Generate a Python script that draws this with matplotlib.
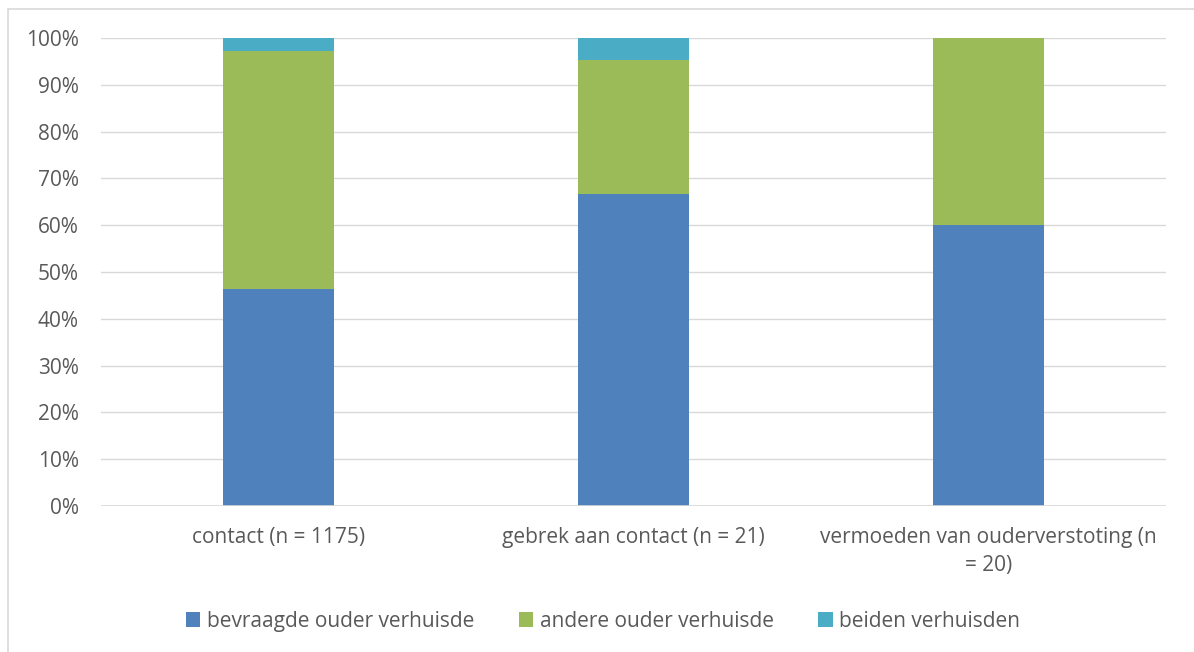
import matplotlib.pyplot as plt
from matplotlib.patches import Rectangle

categories = ["contact (n = 1175)", "gebrek aan contact (n = 21)",
              "vermoeden van ouderverstoting (n\n= 20)"]
bevraagde = [46.3, 66.7, 60.0]
andere = [51.0, 28.6, 40.0]
beiden = [2.7, 4.7, 0.0]

plt.rcParams['font.family'] = ['Open Sans', 'DejaVu Sans']
tc = '#595959'

fig = plt.figure(figsize=(11.94, 6.52), dpi=100)
ax = fig.add_axes([0.0846, 0.2239, 0.8919, 0.7178])

x = range(len(categories))
w = 0.315
ax.bar(x, bevraagde, w, color='#4F81BD', label='bevraagde ouder verhuisde', zorder=3)
ax.bar(x, andere, w, bottom=bevraagde, color='#9BBB59', label='andere ouder verhuisde', zorder=3)
bot = [a + b for a, b in zip(bevraagde, andere)]
ax.bar(x, beiden, w, bottom=bot, color='#4BACC6', label='beiden verhuisden', zorder=3)

ax.set_xlim(-0.5, 2.5)
ax.set_ylim(0, 100)
ax.set_yticks(range(0, 101, 10))
ax.set_yticklabels([f"{v}%" for v in range(0, 101, 10)])
ax.set_xticks(list(x))
ax.set_xticklabels(categories, linespacing=1.45)
ax.grid(axis='y', color='#D9D9D9', linewidth=1, zorder=0)
for s in ax.spines.values():
    s.set_visible(False)
ax.axhline(0, color='#D9D9D9', linewidth=1.2, zorder=4)
ax.tick_params(axis='both', length=0, labelsize=15, colors=tc)
ax.tick_params(axis='y', pad=16)
ax.tick_params(axis='x', pad=15)

fig.legend(loc='center', bbox_to_anchor=(0.505, 0.047), ncol=3, frameon=False,
           fontsize=15, labelcolor=tc, handlelength=0.7, handleheight=0.7,
           handletextpad=0.3, columnspacing=2.15)

fig.patches.append(Rectangle((8 / 1194, -0.1), 1.2, 1 - 9 / 652 + 0.1, transform=fig.transFigure,
                             fill=False, edgecolor='#D9D9D9', linewidth=1.2))

fig.savefig('out.png', dpi=100)
